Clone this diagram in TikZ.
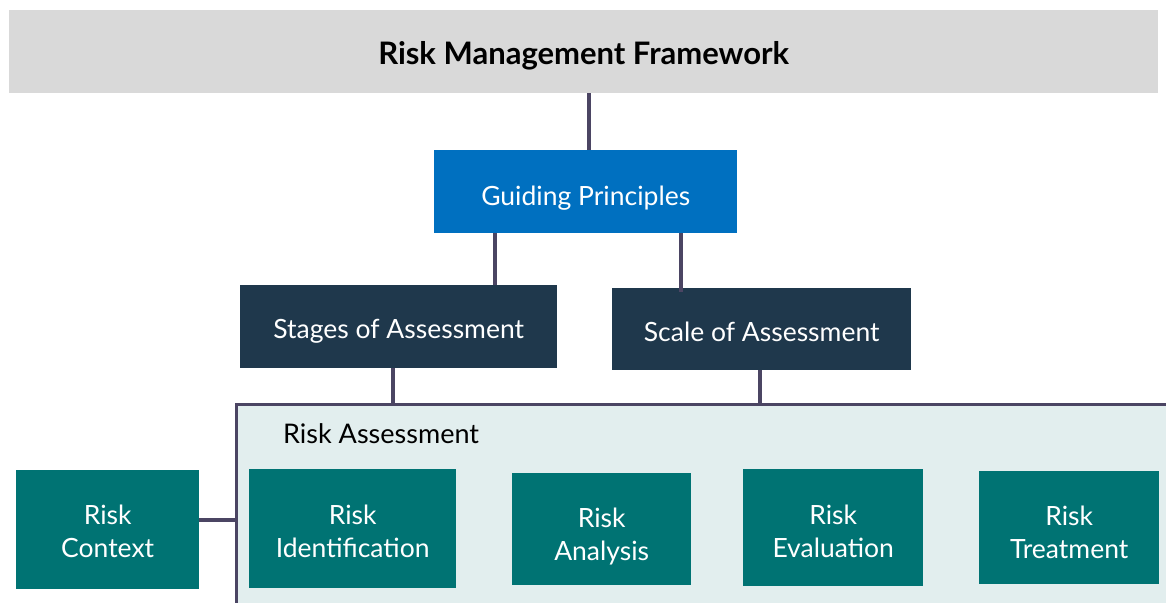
\documentclass[tikz,border=0pt]{standalone}
\usepackage{fontspec}
\setmainfont{Lato}
\begin{document}
\begin{tikzpicture}[x=1pt,y=-1pt,
  box/.style={draw=none,text=white,align=center,inner sep=0pt,text depth=0pt,font=\fontsize{26.5}{33}\selectfont},
  topbar/.style={box,fill=titlegray,text=black,font=\fontsize{31}{36}\selectfont\bfseries,text height=25pt},
  bluebox/.style={box,fill=guideblue,text height=27pt},
  navybox/.style={box,fill=navy,text height=23pt},
  tealbox/.style={box,fill=teal,text height=57pt},
  link/.style={draw=linkpurple,line width=3.5pt}]
\definecolor{titlegray}{HTML}{D9D9D9}
\definecolor{guideblue}{HTML}{0070C0}
\definecolor{navy}{HTML}{1F384C}
\definecolor{teal}{HTML}{007373}
\definecolor{linkpurple}{HTML}{4B4563}
\definecolor{panelfill}{HTML}{E2EEEE}
\useasboundingbox (0,0) rectangle (1166,602);

% Framework title bar
\node[topbar,minimum width=1149pt,minimum height=83pt,anchor=north west] (rmf) at (9,10) {Risk Management Framework};

% Guiding principles and the two branches below it
\node[bluebox,minimum width=303pt,minimum height=83pt,anchor=north west] (gp) at (434,150) {Guiding Principles};
\node[navybox,minimum width=317pt,minimum height=83pt,anchor=north west] (stages) at (240,285) {Stages of Assessment};
\node[navybox,minimum width=299pt,minimum height=82pt,anchor=north west,text height=24pt] (scale) at (612,288) {Scale of Assessment};

% Risk assessment panel (runs off the lower and right edges)
\fill[panelfill] (236.5,404) rectangle (1168,606);
\draw[linkpurple,line width=3pt] (1168,404) -- (236.5,404) -- (236.5,606);
\node[anchor=base west,inner sep=0pt,font=\fontsize{27}{30}\selectfont] (ra) at (283,443) {Risk Assessment};
\coordinate (panelTopL) at (393,404);
\coordinate (panelTopR) at (760,404);
\coordinate (panelLeft) at (236,520);

% Process steps (two-line labels; text height counts from the last baseline)
\node[tealbox,minimum width=183pt,minimum height=119pt,anchor=north west,text height=55pt] (ctx) at (16,470) {Risk\\Context};
\node[tealbox,minimum width=207pt,minimum height=119pt,anchor=north west] (ident) at (249,469) {Risk\\Identification};
\node[tealbox,minimum width=179pt,minimum height=112pt,anchor=north west,text height=62pt] (anal) at (512,473) {Risk\\Analysis};
\node[tealbox,minimum width=180pt,minimum height=117pt,anchor=north west,text height=59pt] (eval) at (743,469) {Risk\\Evaluation};
\node[tealbox,minimum width=180pt,minimum height=113pt,anchor=north west,text height=61pt] (treat) at (979,471) {Risk\\Treatment};

% Connectors
\draw[link] (rmf.south -| 589,0) -- (gp.north -| 589,0);
\draw[link] (gp.south -| 495,0) -- (stages.north -| 495,0);
\draw[link] (gp.south -| 681,0) -- (681,292);
\draw[link] (stages.south -| panelTopL) -- (panelTopL);
\draw[link] (scale.south -| panelTopR) -- (panelTopR);
\draw[link] (ctx.east |- panelLeft) -- (panelLeft);
\end{tikzpicture}
\end{document}
